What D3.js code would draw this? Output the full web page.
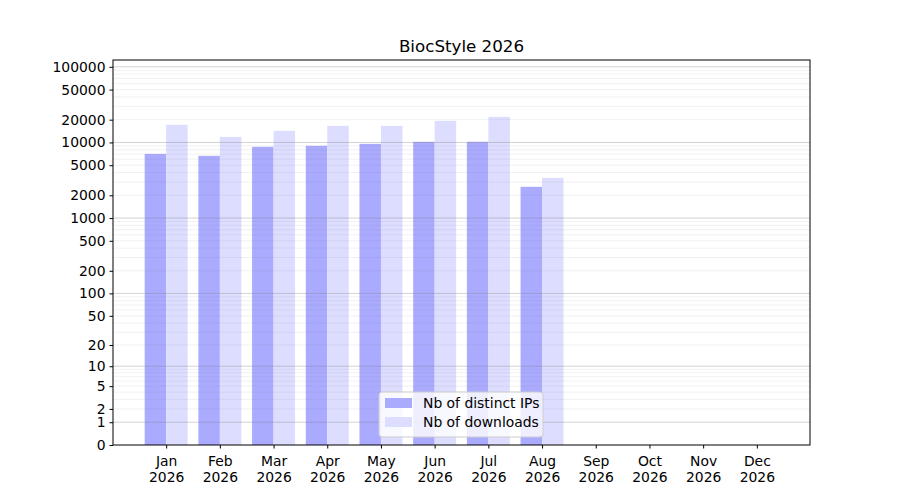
<!DOCTYPE html>
<html>
<head>
<meta charset="utf-8">
<script src="https://cdn.jsdelivr.net/npm/d3@7"></script>
<style>
  body { margin: 0; background: #fff; }
  svg text { font-family: "DejaVu Sans", sans-serif; }
</style>
</head>
<body>
<div id="chart"></div>
<script>
const title = "BiocStyle 2026";
const months = ["Jan", "Feb", "Mar", "Apr", "May", "Jun", "Jul", "Aug", "Sep", "Oct", "Nov", "Dec"];
const year = "2026";
const distinctIPs = [7060, 6650, 8750, 9020, 9580, 10180, 10200, 2590, 0, 0, 0, 0];
const downloads = [17100, 11860, 14230, 16580, 16580, 19300, 21800, 3400, 0, 0, 0, 0];
const yTicks = [0, 1, 2, 5, 10, 20, 50, 100, 200, 500, 1000, 2000, 5000, 10000, 20000, 50000, 100000];
const seriesNames = ["Nb of distinct IPs", "Nb of downloads"];
const seriesColors = ["#aaaaff", "#ddddff"];

const width = 900, height = 500;
const margin = { top: 60, right: 90, bottom: 55, left: 113 };
const chartWidth = width - margin.left - margin.right;
const chartHeight = height - margin.top - margin.bottom;
const barW = 0.4;
const fontSize = "13.9px";

const svg = d3.select("#chart")
  .append("svg")
  .attr("width", width)
  .attr("height", height);

const chart = svg.append("g")
  .attr("transform", `translate(${margin.left}, ${margin.top})`);

// x: month index, with matplotlib-like 5% margins around the bars
const lo = -barW, hi = months.length - 1 + barW;
const pad = (hi - lo) * 0.05;
const xScale = d3.scaleLinear().domain([lo - pad, hi + pad]).range([0, chartWidth]);

// y: log10(1 + v)
const f = v => Math.log10(1 + v);
const yLin = d3.scaleLinear().domain([0, 5.09]).range([chartHeight, 0]);
const yScale = v => yLin(f(v));

// bars
chart.selectAll(".bar-ip")
  .data(distinctIPs)
  .join("rect")
  .attr("class", "bar-ip")
  .attr("x", (d, i) => xScale(i - barW))
  .attr("width", (d, i) => xScale(i) - xScale(i - barW))
  .attr("y", d => yScale(d))
  .attr("height", d => chartHeight - yScale(d))
  .attr("fill", seriesColors[0]);

chart.selectAll(".bar-dl")
  .data(downloads)
  .join("rect")
  .attr("class", "bar-dl")
  .attr("x", (d, i) => xScale(i))
  .attr("width", (d, i) => xScale(i + barW) - xScale(i))
  .attr("y", d => yScale(d))
  .attr("height", d => chartHeight - yScale(d))
  .attr("fill", seriesColors[1]);

// grid: major at powers of ten, minor at 2..9 multiples
const major = [], minor = [];
for (let p = 0; p <= 5; p++) {
  const base = Math.pow(10, p);
  major.push(base);
  for (let k = 2; k <= 9; k++) {
    if (f(k * base) < 5.09) minor.push(k * base);
  }
}
chart.append("g").selectAll("line")
  .data(minor)
  .join("line")
  .attr("x1", 0).attr("x2", chartWidth)
  .attr("y1", d => yScale(d)).attr("y2", d => yScale(d))
  .attr("stroke", "#808080")
  .attr("stroke-opacity", 0.14)
  .attr("stroke-width", 0.8);
chart.append("g").selectAll("line")
  .data(major)
  .join("line")
  .attr("x1", 0).attr("x2", chartWidth)
  .attr("y1", d => yScale(d)).attr("y2", d => yScale(d))
  .attr("stroke", "#808080")
  .attr("stroke-opacity", 0.45)
  .attr("stroke-width", 0.8);

// axes
const xAxis = d3.axisBottom(xScale)
  .tickValues(d3.range(months.length))
  .tickSize(3.5)
  .tickPadding(5)
  .tickFormat("");
const gx = chart.append("g")
  .attr("transform", `translate(0, ${chartHeight})`)
  .attr("font-family", null)
  .call(xAxis);
gx.select(".domain").remove();
gx.selectAll(".tick").each(function (d) {
  const t = d3.select(this).append("text")
    .attr("fill", "#000")
    .attr("text-anchor", "middle")
    .style("font-size", fontSize);
  t.append("tspan").attr("x", 0).attr("y", 21).text(months[d]);
  t.append("tspan").attr("x", 0).attr("y", 37).text(year);
});

const yAxis = d3.axisLeft(yLin)
  .tickValues(yTicks.map(f))
  .tickSize(3.5)
  .tickPadding(4)
  .tickFormat((d, i) => yTicks[i]);
const gy = chart.append("g").call(yAxis);
gy.select(".domain").remove();
gy.selectAll(".tick text").style("font-size", fontSize).attr("fill", "#000");
gy.selectAll(".tick line").attr("stroke", "#000");
gx.selectAll(".tick line").attr("stroke", "#000");

// frame
chart.append("rect")
  .attr("width", chartWidth)
  .attr("height", chartHeight)
  .attr("fill", "none")
  .attr("stroke", "#000")
  .attr("stroke-width", 1);

// title
svg.append("text")
  .attr("x", margin.left + chartWidth / 2)
  .attr("y", 52)
  .attr("text-anchor", "middle")
  .style("font-size", "16.7px")
  .text(title);

// legend, lower center
const legW = 164, legH = 45;
const legend = chart.append("g")
  .attr("transform", `translate(${chartWidth / 2 - legW / 2 - 0.5}, ${chartHeight - legH - 8})`);
legend.append("rect")
  .attr("width", legW)
  .attr("height", legH)
  .attr("rx", 3)
  .attr("fill", "#fff")
  .attr("fill-opacity", 0.8)
  .attr("stroke", "#cccccc");
seriesNames.forEach((name, i) => {
  legend.append("rect")
    .attr("x", 6)
    .attr("y", 6 + i * 19)
    .attr("width", 27)
    .attr("height", 10)
    .attr("fill", seriesColors[i]);
  legend.append("text")
    .attr("x", 44)
    .attr("y", 16 + i * 19)
    .style("font-size", fontSize)
    .text(name);
});
</script>
</body>
</html>
